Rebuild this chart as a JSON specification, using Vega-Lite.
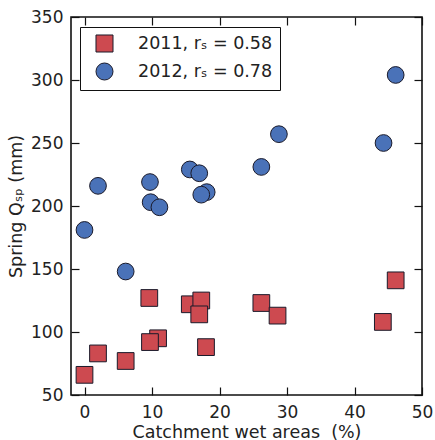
{
  "$schema": "https://vega.github.io/schema/vega-lite/v6.json",
  "width": 351,
  "height": 378,
  "autosize": {"type": "none"},
  "padding": {"left": 71, "top": 17, "right": 13, "bottom": 45},
  "background": "white",
  "config": {
    "font": "DejaVu Sans",
    "view": {"stroke": "#111", "strokeWidth": 1.6},
    "axis": {
      "grid": false,
      "domain": false,
      "tickColor": "#111",
      "tickSize": -8,
      "tickWidth": 1.2,
      "labelFont": "DejaVu Sans",
      "labelFontSize": 17,
      "labelColor": "#222",
      "titleFont": "DejaVu Sans",
      "titleFontSize": 17.5,
      "titleFontWeight": "normal",
      "titleColor": "#222",
      "labelFlush": false,
      "labelOverlap": false
    },
    "legend": {
      "labelFontSize": 17.5, "labelColor": "#222", "labelFont": "DejaVu Sans",
      "symbolSize": 290, "symbolStrokeColor": "#1a1a2a", "symbolStrokeWidth": 1,
      "symbolOffset": 8, "labelOffset": 24,
      "strokeColor": "#111", "fillColor": "white",
      "padding": 7, "rowPadding": 5
    }
  },
  "data": {
    "values": [
      {"year": "2012", "wet": 2.0, "q": 216},
      {"year": "2012", "wet": 46.1, "q": 304},
      {"year": "2012", "wet": 28.8, "q": 257},
      {"year": "2012", "wet": 44.3, "q": 250},
      {"year": "2012", "wet": 26.2, "q": 231},
      {"year": "2012", "wet": 15.6, "q": 229},
      {"year": "2012", "wet": 17.0, "q": 226},
      {"year": "2012", "wet": 9.7, "q": 219},
      {"year": "2012", "wet": 18.1, "q": 211},
      {"year": "2012", "wet": 17.3, "q": 209},
      {"year": "2012", "wet": 9.8, "q": 203},
      {"year": "2012", "wet": 11.1, "q": 199},
      {"year": "2012", "wet": 0.0, "q": 181},
      {"year": "2012", "wet": 6.1, "q": 148},
      {"year": "2011", "wet": 46.1, "q": 141},
      {"year": "2011", "wet": 9.6, "q": 127},
      {"year": "2011", "wet": 15.6, "q": 122},
      {"year": "2011", "wet": 17.3, "q": 125},
      {"year": "2011", "wet": 17.0, "q": 114},
      {"year": "2011", "wet": 26.2, "q": 123},
      {"year": "2011", "wet": 28.6, "q": 113},
      {"year": "2011", "wet": 44.2, "q": 108},
      {"year": "2011", "wet": 10.9, "q": 95},
      {"year": "2011", "wet": 9.7, "q": 92},
      {"year": "2011", "wet": 18.0, "q": 88},
      {"year": "2011", "wet": 2.0, "q": 83},
      {"year": "2011", "wet": 6.1, "q": 77},
      {"year": "2011", "wet": 0.0, "q": 66}
    ]
  },
  "layer": [
    {
      "mark": {"type": "point", "filled": true, "opacity": 1, "size": 280, "stroke": "#1a1a2a", "strokeWidth": 1},
      "encoding": {
        "x": {
          "field": "wet", "type": "quantitative",
          "scale": {"domain": [-2, 50], "nice": false, "zero": false},
          "axis": {"orient": "bottom", "values": [0, 10, 20, 30, 40, 50], "title": "Catchment wet areas \u00a0(%)", "labelPadding": 17, "titlePadding": 3}
        },
        "y": {
          "field": "q", "type": "quantitative",
          "scale": {"domain": [50, 350], "nice": false, "zero": false},
          "axis": {"orient": "left", "values": [50, 100, 150, 200, 250, 300, 350], "title": "Spring Qₛₚ (mm)", "labelPadding": 16, "titlePadding": 5}
        },
        "shape": {
          "field": "year", "type": "nominal",
          "scale": {"domain": ["2011", "2012"], "range": ["square", "circle"]},
          "legend": {
            "orient": "none", "legendX": 9, "legendY": 10,
            "title": null,
            "symbolOffset": 8, "labelOffset": 24, "rowPadding": 5,
            "labelExpr": "datum.value == '2011' ? '2011, rₛ = 0.58' : '2012, rₛ = 0.78'"
          }
        },
        "color": {
          "field": "year", "type": "nominal",
          "scale": {"domain": ["2011", "2012"], "range": ["#cd4a50", "#4a72b8"]}
        }
      }
    },
    {
      "mark": {"type": "point", "opacity": 0},
      "encoding": {
        "x": {
          "field": "wet", "type": "quantitative",
          "scale": {"domain": [-2, 50], "nice": false, "zero": false},
          "axis": {"orient": "top", "values": [0, 10, 20, 30, 40, 50], "labels": false, "title": null}
        },
        "y": {
          "field": "q", "type": "quantitative",
          "scale": {"domain": [50, 350], "nice": false, "zero": false},
          "axis": {"orient": "right", "values": [50, 100, 150, 200, 250, 300, 350], "labels": false, "title": null}
        }
      }
    }
  ],
  "resolve": {"axis": {"x": "independent", "y": "independent"}}
}
